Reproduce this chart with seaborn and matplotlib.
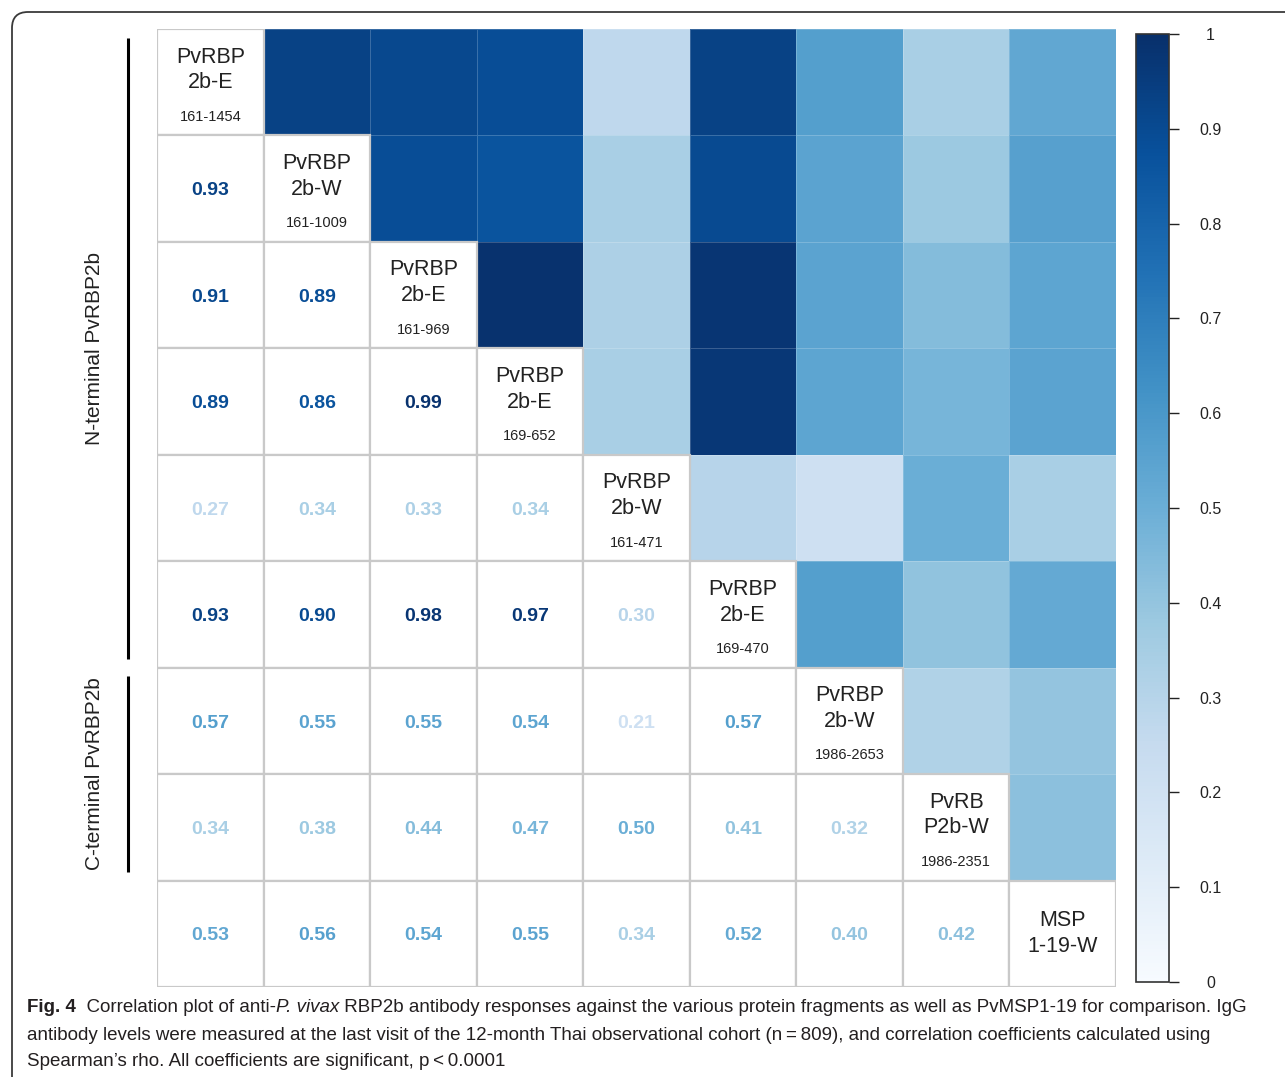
import numpy as np
import pandas as pd
import matplotlib
import matplotlib.pyplot as plt
import seaborn as sns
from matplotlib.patches import Rectangle, FancyBboxPatch
from matplotlib.transforms import IdentityTransform, blended_transform_factory
from matplotlib import font_manager as fm

# Diagonal labels (name lines, residue range)
names = ['PvRBP\n2b-E', 'PvRBP\n2b-W', 'PvRBP\n2b-E', 'PvRBP\n2b-E', 'PvRBP\n2b-W',
         'PvRBP\n2b-E', 'PvRBP\n2b-W', 'PvRB\nP2b-W', 'MSP\n1-19-W']
ranges = ['161-1454', '161-1009', '161-969', '169-652', '161-471',
          '169-470', '1986-2653', '1986-2351', '']

# Lower-triangle Spearman coefficients, row by row
row2 = [0.93]
row3 = [0.91, 0.89]
row4 = [0.89, 0.86, 0.99]
row5 = [0.27, 0.34, 0.33, 0.34]
row6 = [0.93, 0.90, 0.98, 0.97, 0.30]
row7 = [0.57, 0.55, 0.55, 0.54, 0.21, 0.57]
row8 = [0.34, 0.38, 0.44, 0.47, 0.50, 0.41, 0.32]
row9 = [0.53, 0.56, 0.54, 0.55, 0.34, 0.52, 0.40, 0.42]
lower_rows = [row2, row3, row4, row5, row6, row7, row8, row9]

n = len(names)
mat = np.eye(n)
for i, r in enumerate(lower_rows, start=1):
    for j, v in enumerate(r):
        mat[i, j] = v
        mat[j, i] = v
df = pd.DataFrame(mat)

sns.set_style('white')
plt.rcParams['font.family'] = ['Liberation Sans', 'DejaVu Sans']

W, H = 1285, 1077
fig = plt.figure(figsize=(W / 100, H / 100), dpi=100)
ax = fig.add_axes([157 / W, 1 - 987 / H, (1116 - 157) / W, (987 - 29) / H])
cax = fig.add_axes([1136 / W, 1 - 982 / H, 33 / W, 948 / H])

cmap = plt.get_cmap('Blues')
mask = np.tril(np.ones((n, n), dtype=bool))
sns.heatmap(df, mask=mask, cmap=cmap, vmin=0, vmax=1, ax=ax, cbar_ax=cax,
            linewidths=0.6, linecolor=(1, 1, 1, 0.2),
            xticklabels=False, yticklabels=False, square=False)

# lower triangle + diagonal: white cells with grey borders and text
for i in range(n):
    for j in range(i + 1):
        ax.add_patch(Rectangle((j, i), 1, 1, facecolor='white',
                               edgecolor='#c9c9c9', lw=1.6, zorder=2))
        if i == j:
            if ranges[i]:
                ax.text(j + 0.5, i + 0.385, names[i], ha='center', va='center',
                        fontsize=15.5, color='#222222', linespacing=1.3, zorder=3)
                ax.text(j + 0.5, i + 0.825, ranges[i], ha='center', va='center',
                        fontsize=10.5, color='#222222', zorder=3)
            else:
                ax.text(j + 0.5, i + 0.5, names[i], ha='center', va='center',
                        fontsize=15.5, color='#222222', linespacing=1.3, zorder=3)
        else:
            v = mat[i, j]
            ax.text(j + 0.5, i + 0.52, f'{v:.2f}', ha='center', va='center',
                    fontsize=14, fontweight='bold', color=cmap(v), zorder=3)

ax.set_xlim(0, n)
ax.set_ylim(n, 0)
for s in ax.spines.values():
    s.set_visible(False)

# colorbar
ticks = np.round(np.arange(0, 1.01, 0.1), 1)
cax.set_yticks(ticks)
cax.set_yticklabels(['0' if t == 0 else ('1' if t == 1 else f'{t:.1f}') for t in ticks])
cax.tick_params(axis='y', right=True, left=False, length=7, width=1, pad=23,
                labelsize=11.5, color='#222222', labelcolor='#222222')
for lab in cax.get_yticklabels():
    lab.set_horizontalalignment('center')
cbar = ax.collections[0].colorbar
cbar.outline.set_visible(True)
cbar.outline.set_edgecolor('#333333')
cbar.outline.set_linewidth(1.2)

# group brackets on the left
tr = blended_transform_factory(fig.transFigure, ax.transData)
groups = [('N-terminal PvRBP2b', 0, 6), ('C-terminal PvRBP2b', 6, 8)]
for label, a, b in groups:
    ax.plot([128 / W, 128 / W], [a + 0.08, b - 0.08], transform=tr, color='black',
            lw=2.2, clip_on=False, solid_capstyle='butt')
    ax.text(95 / W, (a + b) / 2, label, transform=tr, rotation=90, ha='center',
            va='center', fontsize=15, color='#222222')

# caption
cap_font = 'Liberation Sans Narrow'
if cap_font not in {f.name for f in fm.fontManager.ttflist}:
    cap_font = 'Liberation Sans'
cap_size = 13.5
fig.canvas.draw()
renderer = fig.canvas.get_renderer()
pieces = [('Fig. 4', 'bold', 'normal'),
          ('  Correlation plot of anti-', 'normal', 'normal'),
          ('P. vivax', 'normal', 'italic'),
          (' RBP2b antibody responses against the various protein fragments as well as PvMSP1-19 for comparison. IgG',
           'normal', 'normal')]
x = 27
y1 = H - 1008
for txt, wgt, sty in pieces:
    t = fig.text(x, y1, txt, transform=IdentityTransform(), fontsize=cap_size,
                 family=cap_font, fontweight=wgt, style=sty, va='center',
                 color='#231f20')
    x = t.get_window_extent(renderer).x1
fig.text(27, H - 1035,
         'antibody levels were measured at the last visit of the 12-month Thai observational cohort (n\u2009=\u2009809), and correlation coefficients calculated using',
         transform=IdentityTransform(), fontsize=cap_size, family=[cap_font, 'DejaVu Sans'],
         va='center', color='#231f20')
fig.text(27, H - 1062, 'Spearman\u2019s rho. All coefficients are significant, p\u2009<\u20090.0001',
         transform=IdentityTransform(), fontsize=cap_size, family=[cap_font, 'DejaVu Sans'],
         va='center', color='#231f20')

# rounded frame around the figure
frame = FancyBboxPatch((12, -60), 1400, H - 12 + 60,
                       boxstyle='round,pad=0,rounding_size=16',
                       transform=IdentityTransform(), facecolor='none',
                       edgecolor='#3a3a3a', lw=1.3)
fig.patches.append(frame)

fig.savefig('out.png', dpi=100, facecolor='white')
plt.close(fig)
